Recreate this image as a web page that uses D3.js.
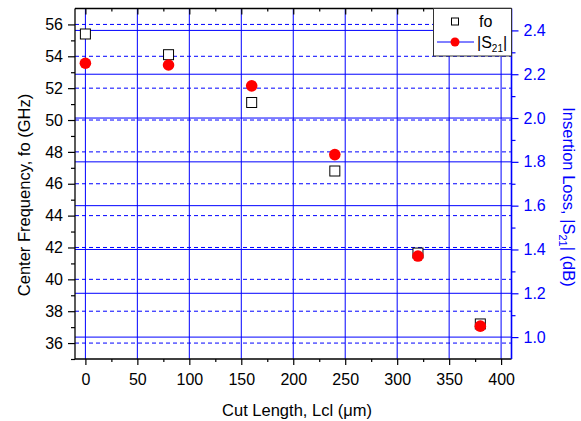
<!DOCTYPE html>
<html>
<head>
<meta charset="utf-8">
<script src="https://cdn.jsdelivr.net/npm/d3@7"></script>
<style>
  body { margin: 0; background: #fff; }
  text { font-family: "Liberation Sans", Arial, sans-serif; }
</style>
</head>
<body>
<div id="chart"></div>
<script>
// data
var cutLength = [0, 80, 160, 240, 320, 380];          // um
var fo        = [55.4, 54.1, 51.1, 46.8, 41.65, 37.2]; // GHz, left axis
var s21       = [2.25, 2.242, 2.147, 1.833, 1.37, 1.05]; // dB, right axis

var xTicks  = [0, 50, 100, 150, 200, 250, 300, 350, 400];
var yLTicks = [36, 38, 40, 42, 44, 46, 48, 50, 52, 54, 56];
var yRTicks = [1.0, 1.2, 1.4, 1.6, 1.8, 2.0, 2.2, 2.4];

// plot box (note: "top" is taken by window.top)
var W = 581, H = 421,
    pL = 75, pR = 511.5, pT = 8.5, pB = 359,
    blue = "#0000ff";

var svg = d3.select("#chart").append("svg")
    .attr("width", W).attr("height", H);

var x  = d3.scaleLinear().domain([-10, 410]).range([pL, pR]);
var yL = d3.scaleLinear().domain([35, 57]).range([pB, pT]);
var yR = d3.scaleLinear().domain([0.9, 2.5]).range([pB, pT]);

// minor ticks
var xMinor  = [25, 75, 125, 175, 225, 275, 325, 375];
var yLMinor = d3.range(35, 57, 2);
var yRMinor = [1.1, 1.3, 1.5, 1.7, 1.9, 2.1, 2.3];

// grid
var grid = svg.append("g");
grid.selectAll(".gx").data(xTicks).enter().append("line")
    .attr("x1", function(d){ return x(d); }).attr("x2", function(d){ return x(d); })
    .attr("y1", pT).attr("y2", pB)
    .attr("stroke", blue).attr("stroke-width", 1);
grid.selectAll(".gl").data(yLTicks).enter().append("line")
    .attr("x1", pL).attr("x2", pR)
    .attr("y1", function(d){ return yL(d); }).attr("y2", function(d){ return yL(d); })
    .attr("stroke", blue).attr("stroke-width", 1).attr("stroke-dasharray", "4,3");
grid.selectAll(".gr").data(yRTicks).enter().append("line")
    .attr("x1", pL).attr("x2", pR)
    .attr("y1", function(d){ return yR(d); }).attr("y2", function(d){ return yR(d); })
    .attr("stroke", blue).attr("stroke-width", 1);

// axes
var fs = "16px";
function styleAxis(g, col) {
    g.select(".domain").remove();
    g.selectAll("line").attr("stroke", col).attr("stroke-width", 1.2);
    g.selectAll("text").attr("fill", col).style("font-size", fs)
        .style("font-family", "Liberation Sans, Arial, sans-serif");
}

var gx = svg.append("g").attr("transform", "translate(0," + pB + ")")
    .call(d3.axisBottom(x).tickValues(xTicks).tickSize(6).tickPadding(9).tickFormat(d3.format("d")));
styleAxis(gx, "#000");
svg.append("g").attr("transform", "translate(0," + pB + ")")
    .call(d3.axisBottom(x).tickValues(xMinor).tickSize(3).tickFormat(""))
    .call(function(g){ styleAxis(g, "#000"); });

svg.append("g").attr("transform", "translate(0," + pT + ")")
    .call(d3.axisBottom(x).tickValues(xTicks).tickSize(6).tickFormat(""))
    .call(function(g){ styleAxis(g, "#000"); });
svg.append("g").attr("transform", "translate(0," + pT + ")")
    .call(d3.axisBottom(x).tickValues(xMinor).tickSize(3).tickFormat(""))
    .call(function(g){ styleAxis(g, "#000"); });

var gl = svg.append("g").attr("transform", "translate(" + pL + ",0)")
    .call(d3.axisLeft(yL).tickValues(yLTicks).tickSize(7).tickPadding(5).tickFormat(d3.format("d")));
styleAxis(gl, "#000");
svg.append("g").attr("transform", "translate(" + pL + ",0)")
    .call(d3.axisLeft(yL).tickValues(yLMinor).tickSize(4).tickFormat(""))
    .call(function(g){ styleAxis(g, "#000"); });

var gr = svg.append("g").attr("transform", "translate(" + pR + ",0)")
    .call(d3.axisRight(yR).tickValues(yRTicks).tickSize(7).tickPadding(5).tickFormat(d3.format(".1f")));
styleAxis(gr, blue);
svg.append("g").attr("transform", "translate(" + pR + ",0)")
    .call(d3.axisRight(yR).tickValues(yRMinor).tickSize(4).tickFormat(""))
    .call(function(g){ styleAxis(g, blue); });

// frame
svg.append("line").attr("x1", pL).attr("x2", pR).attr("y1", pT).attr("y2", pT)
    .attr("stroke", "#000").attr("stroke-width", 1.3);
svg.append("line").attr("x1", pL).attr("x2", pR).attr("y1", pB).attr("y2", pB)
    .attr("stroke", "#000").attr("stroke-width", 1.3);
svg.append("line").attr("x1", pL).attr("x2", pL).attr("y1", pT).attr("y2", pB)
    .attr("stroke", "#000").attr("stroke-width", 1.3);
svg.append("line").attr("x1", pR).attr("x2", pR).attr("y1", pT).attr("y2", pB)
    .attr("stroke", blue).attr("stroke-width", 1.6);

// points
var pts = cutLength.map(function(d, i){ return {x: d, fo: fo[i], s: s21[i]}; });
svg.selectAll(".sq").data(pts).enter().append("rect")
    .attr("x", function(d){ return x(d.x) - 5; })
    .attr("y", function(d){ return yL(d.fo) - 5; })
    .attr("width", 10).attr("height", 10)
    .attr("fill", "#fff").attr("stroke", "#000").attr("stroke-width", 1);
svg.selectAll(".dot").data(pts).enter().append("circle")
    .attr("cx", function(d){ return x(d.x); })
    .attr("cy", function(d){ return yR(d.s); })
    .attr("r", 5.8).attr("fill", "#ff0000");

// legend
var lg = svg.append("g");
lg.append("rect").attr("x", 433.5).attr("y", pT).attr("width", pR - 433.5).attr("height", 47.5)
    .attr("fill", "#fff").attr("stroke", "#333").attr("stroke-width", 1);
lg.append("rect").attr("x", 451.5).attr("y", 18).attr("width", 7).attr("height", 7)
    .attr("fill", "#fff").attr("stroke", "#000");
lg.append("text").attr("x", 479).attr("y", 27).style("font-size", fs).text("fo");
lg.append("line").attr("x1", 437).attr("x2", 474).attr("y1", 42).attr("y2", 42)
    .attr("stroke", blue).attr("stroke-width", 1);
lg.append("circle").attr("cx", 455).attr("cy", 42).attr("r", 4.5).attr("fill", "#ff0000");
var ls = lg.append("text").attr("x", 477).attr("y", 48).style("font-size", fs);
ls.append("tspan").text("|S");
ls.append("tspan").attr("dy", 4).style("font-size", "10px").text("21");
ls.append("tspan").attr("dy", -4).text("|");

// axis titles
svg.append("text").attr("x", 297).attr("y", 416)
    .attr("text-anchor", "middle").style("font-size", "16.5px")
    .text("Cut Length, Lcl (\u03bcm)");
svg.append("text").attr("transform", "translate(30,195) rotate(-90)")
    .attr("text-anchor", "middle").style("font-size", "16.5px")
    .text("Center Frequency, fo (GHz)");
var rt = svg.append("text").attr("transform", "translate(563,197) rotate(90)")
    .attr("text-anchor", "middle").style("font-size", "16.5px").attr("fill", blue);
rt.append("tspan").text("Insertion Loss, |S");
rt.append("tspan").attr("dy", 4).style("font-size", "11px").text("21");
rt.append("tspan").attr("dy", -4).text("| (dB)");
</script>
</body>
</html>
